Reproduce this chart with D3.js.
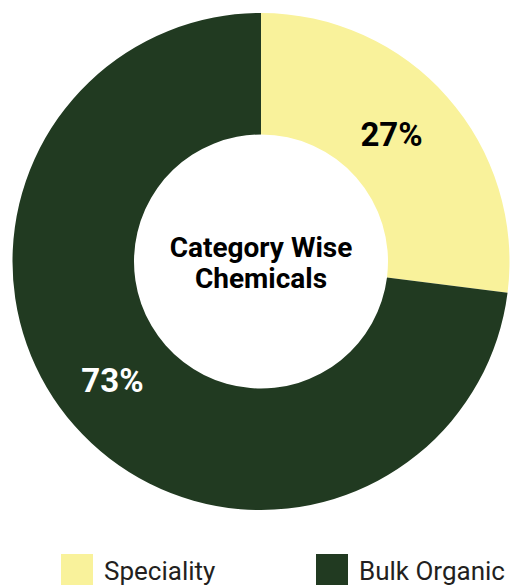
<!DOCTYPE html>
<html>
<head>
<meta charset="utf-8">
<script src="https://cdn.jsdelivr.net/npm/d3@7"></script>
<style>
  body { margin: 0; background: #fff; }
  svg { display: block; font-family: Roboto, "Liberation Sans", sans-serif; }
</style>
</head>
<body>
<svg></svg>
<script>
var categories = ["Speciality", "Bulk Organic"];
var values = [27, 73];
var colors = ["#f9f29b", "#213a21"];
var labelColors = ["#000000", "#ffffff"];
var centerTitle = ["Category Wise", "Chemicals"];

var width = 512;
var height = 585;
var cx = 261, cy = 261.5;
var outerR = 248.5, innerR = 127;

var svg = d3.select("svg")
    .attr("width", width)
    .attr("height", height);

var pie = d3.pie().sort(null).value(d => d);
var arcs = pie(values);

var arc = d3.arc().innerRadius(innerR).outerRadius(outerR);
var labelArc = d3.arc().innerRadius(186).outerRadius(186);

var g = svg.append("g")
    .attr("transform", "translate(" + cx + "," + cy + ")");

g.selectAll("path")
  .data(arcs)
  .enter()
  .append("path")
    .attr("d", arc)
    .attr("fill", (d, i) => colors[i]);

g.selectAll("text.pct")
  .data(arcs)
  .enter()
  .append("text")
    .attr("class", "pct")
    .text(d => d.data + "%")
    .attr("x", d => labelArc.centroid(d)[0] - 9)
    .attr("y", d => labelArc.centroid(d)[1] + 7.5)
    .attr("text-anchor", "middle")
    .attr("fill", (d, i) => labelColors[i])
    .style("font-size", "33px")
    .style("font-weight", "bold");

g.selectAll("text.title")
  .data(centerTitle)
  .enter()
  .append("text")
    .attr("class", "title")
    .text(d => d)
    .attr("x", 0)
    .attr("y", (d, i) => -5 + i * 31.5)
    .attr("text-anchor", "middle")
    .attr("fill", "#000")
    .style("font-size", "28px")
    .style("font-weight", "bold");

// legend
var legendX = d3.scaleOrdinal().domain(categories).range([61, 316]);

var legend = svg.selectAll("g.legend")
  .data(categories)
  .enter()
  .append("g")
    .attr("class", "legend")
    .attr("transform", d => "translate(" + legendX(d) + ",554)");

legend.append("rect")
    .attr("width", 32)
    .attr("height", 32)
    .attr("fill", (d, i) => colors[i]);

legend.append("text")
    .text(d => d)
    .attr("x", 43)
    .attr("y", 26)
    .attr("fill", "#231f20")
    .style("font-size", "26px");
</script>
</body>
</html>
